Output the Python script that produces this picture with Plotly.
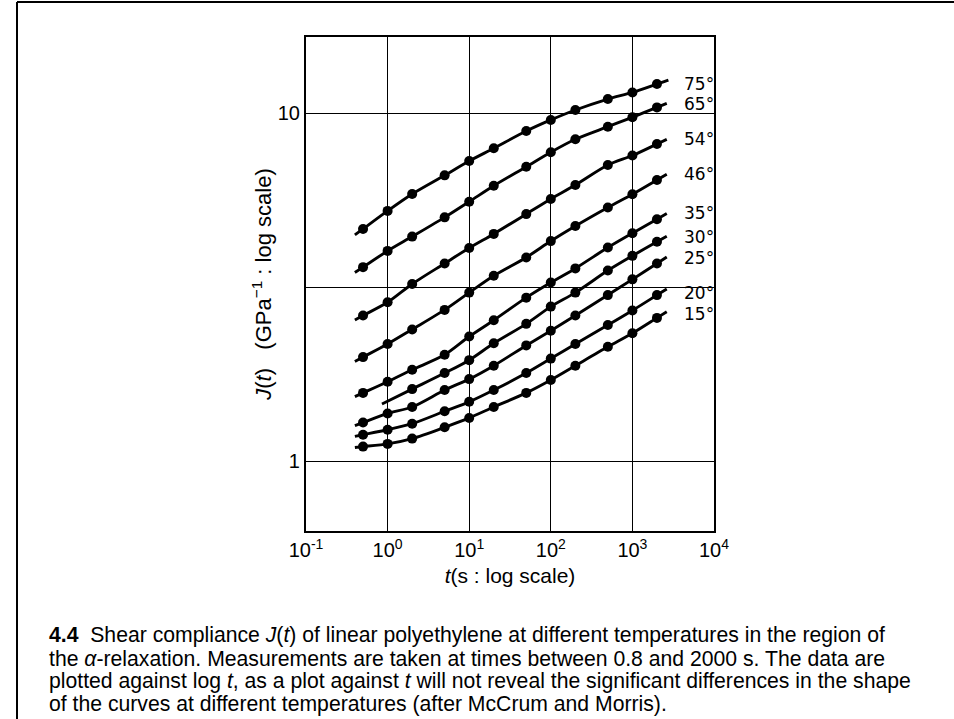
import numpy as np
import plotly.graph_objects as go

# ---------------- data ----------------
t_vals = [0.5, 1, 2, 5, 10, 20, 50, 100, 200, 500, 1000, 2000]
temps = ["75°", "65°", "54°", "46°", "35°", "30°", "25°", "20°", "15°"]

J75 = [4.65, 5.24, 5.86, 6.63, 7.29, 7.93, 8.89, 9.57, 10.22, 10.99, 11.48, 12.14]
J65 = [3.61, 4.02, 4.42, 5.02, 5.57, 6.19, 7.02, 7.73, 8.42, 9.15, 9.74, 10.40]
J54 = [2.62, 2.86, 3.23, 3.70, 4.10, 4.50, 5.13, 5.67, 6.22, 7.10, 7.56, 8.16]
J46 = [1.99, 2.17, 2.39, 2.72, 3.05, 3.41, 3.85, 4.29, 4.74, 5.36, 5.85, 6.43]
J35 = [1.57, 1.69, 1.83, 2.02, 2.28, 2.54, 2.95, 3.26, 3.58, 4.11, 4.52, 4.96]
J30 = [None, None, 1.61, 1.79, 1.95, 2.18, 2.48, 2.78, 3.05, 3.53, 3.89, 4.27]
J25 = [1.29, 1.37, 1.43, 1.60, 1.72, 1.88, 2.15, 2.37, 2.62, 3.00, 3.33, 3.70]
J20 = [1.19, 1.23, 1.28, 1.39, 1.48, 1.60, 1.79, 1.97, 2.17, 2.46, 2.71, 3.00]
J15 = [1.10, 1.12, 1.16, 1.25, 1.33, 1.43, 1.57, 1.71, 1.88, 2.13, 2.33, 2.58]

series = [J75, J65, J54, J46, J35, J30, J25, J20, J15]

x_tickvals = [0.1, 1, 10, 100, 1000, 10000]
x_ticktext = ["10<sup>-1</sup>", "10<sup>0</sup>", "10<sup>1</sup>", "10<sup>2</sup>",
              "10<sup>3</sup>", "10<sup>4</sup>"]
y_tickvals = [1, 10 ** 0.5, 10]
y_ticktext = ["1", "", "10"]

caption_lines = [
    "<b>4.4</b>  Shear compliance <i>J</i>(<i>t</i>) of linear polyethylene at different temperatures in the region of",
    "the <i>α</i>-relaxation. Measurements are taken at times between 0.8 and 2000 s. The data are",
    "plotted against log <i>t</i>, as a plot against <i>t</i> will not reveal the significant differences in the shape",
    "of the curves at different temperatures (after McCrum and Morris).",
]

# ---------------- style ----------------
ext_left = [0.10, 0.10, 0.10, 0.10, 0.10, 0.37, 0.10, 0.10, 0.10]   # decades
ext_right = [0.14, 0.12, 0.12, 0.12, 0.12, 0.12, 0.12, 0.12, 0.12]
label_shift = [0, 3, 5, 6, 6, 5, 5, 2, 4]

W, H = 954, 719
L, R, T, B = 306, 714, 37, 531
y_lo, y_hi = (461 - 531) / 347.7, (461 - 37) / 347.7

fig = go.Figure()

for name, J, el, er in zip(temps, series, ext_left, ext_right):
    pts = [(t, j) for t, j in zip(t_vals, J) if j is not None]
    lx = np.log10([p[0] for p in pts])
    ly = np.log10([p[1] for p in pts])
    s0 = (ly[1] - ly[0]) / (lx[1] - lx[0])
    s1 = (ly[-1] - ly[-2]) / (lx[-1] - lx[-2])
    lxl = np.concatenate([[lx[0] - el], lx, [lx[-1] + er]])
    lyl = np.concatenate([[ly[0] - el * s0], ly, [ly[-1] + er * s1]])
    fig.add_trace(go.Scatter(x=10 ** lxl, y=10 ** lyl, mode="lines",
                             line=dict(color="black", width=2.9, shape="spline", smoothing=0.8),
                             hoverinfo="skip", showlegend=False))
    fig.add_trace(go.Scatter(x=[p[0] for p in pts], y=[p[1] for p in pts], mode="markers",
                             marker=dict(color="black", size=10), name=name, showlegend=False))

# right-hand temperature labels
for name, J, sh in zip(temps, series, label_shift):
    fig.add_annotation(x=(682 - L) / (R - L), xref="paper", y=np.log10(J[-1]), yref="y",
                       text=name, showarrow=False, xanchor="left", yanchor="middle",
                       yshift=sh, font=dict(family="DejaVu Sans", size=17, color="black"))

# caption
for i, line in enumerate(caption_lines):
    py = 635 + 23 * i
    fig.add_annotation(x=(47 - L) / (R - L), xref="paper", y=(B - py) / (B - T), yref="paper",
                       text=line, showarrow=False, xanchor="left", yanchor="middle",
                       font=dict(family="Liberation Sans", size=21.2, color="black"))

# outer frame lines (left and top)
fig.add_shape(type="line", xref="paper", yref="paper",
              x0=(17 - L) / (R - L), x1=(17 - L) / (R - L), y0=(B - 719) / (B - T), y1=(B - 2) / (B - T),
              line=dict(color="black", width=2))
fig.add_shape(type="line", xref="paper", yref="paper",
              x0=(17 - L) / (R - L), x1=(954 - L) / (R - L), y0=(B - 2) / (B - T), y1=(B - 2) / (B - T),
              line=dict(color="black", width=2))

axis_font = dict(family="Liberation Sans", size=20, color="black")
fig.update_xaxes(type="log", range=[-1, 4], tickvals=x_tickvals, ticktext=x_ticktext,
                 showgrid=True, gridcolor="black", gridwidth=1.3, zeroline=False,
                 showline=True, linecolor="black", linewidth=2.2, mirror=True,
                 ticks="", tickfont=axis_font,
                 title=dict(text="<i>t</i>(s : log scale)",
                            font=dict(family="Liberation Sans", size=21, color="black"), standoff=8))
fig.update_yaxes(type="log", range=[y_lo, y_hi], tickvals=y_tickvals, ticktext=y_ticktext,
                 showgrid=True, gridcolor="black", gridwidth=1.3, zeroline=False,
                 showline=True, linecolor="black", linewidth=2.2, mirror=True,
                 ticks="", tickfont=axis_font,
                 title=dict(text="<i>J</i>(<i>t</i>)   (GPa<sup>−1</sup> : log scale)",
                            font=dict(family="Liberation Sans", size=22, color="black"), standoff=0))

fig.update_layout(width=W, height=H, margin=dict(l=L, r=W - R, t=T, b=H - B, pad=0),
                  plot_bgcolor="white", paper_bgcolor="white", showlegend=False)

fig.write_html("out.html")
